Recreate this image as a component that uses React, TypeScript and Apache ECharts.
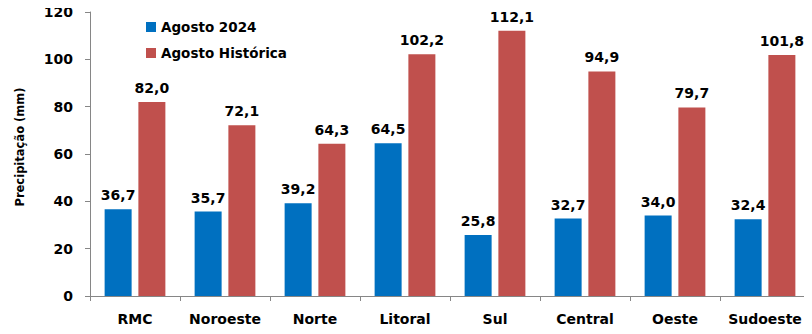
import React, { useEffect, useRef } from "react";
import * as echarts from "echarts";

const categories = ["RMC", "Noroeste", "Norte", "Litoral", "Sul", "Central", "Oeste", "Sudoeste"];
const agosto2024 = [36.7, 35.7, 39.2, 64.5, 25.8, 32.7, 34.0, 32.4];
const agostoHistorica = [82.0, 72.1, 64.3, 102.2, 112.1, 94.9, 79.7, 101.8];
const seriesNames = ["Agosto 2024", "Agosto Histórica"];
const yAxisName = "Precipitação (mm)";

const FONT = "'DejaVu Sans', Verdana, sans-serif";
const fmt = (v: number) => v.toFixed(1).replace(".", ",");

export default function App() {
  const ref = useRef<HTMLDivElement>(null);
  useEffect(() => {
    if (!ref.current) return;
    const chart = echarts.init(ref.current, null, { renderer: "svg" });
    const label = {
      show: true,
      position: "top" as const,
      distance: 7,
      color: "#000",
      fontFamily: FONT,
      fontWeight: "bold" as const,
      fontSize: 14,
      formatter: (p: any) => fmt(p.value),
    };
    chart.setOption({
      animation: false,
      backgroundColor: "#fff",
      grid: { left: 90, right: 2, top: 12, bottom: 38 },
      legend: {
        orient: "vertical",
        left: 141,
        top: 14,
        itemWidth: 10,
        itemHeight: 10,
        itemGap: 10,
        icon: "rect",
        textStyle: {
          fontFamily: FONT,
          fontWeight: "bold",
          fontSize: 13.5,
          color: "#000",
          lineHeight: 16,
        },
        data: seriesNames,
      },
      xAxis: {
        type: "category",
        data: categories,
        axisLine: { lineStyle: { color: "#868686", width: 1 } },
        axisTick: { show: true, length: 5, lineStyle: { color: "#868686" } },
        axisLabel: {
          interval: 0,
          color: "#000",
          fontFamily: FONT,
          fontWeight: "bold",
          fontSize: 14,
          margin: 16,
        },
      },
      yAxis: {
        type: "value",
        min: 0,
        max: 120,
        interval: 20,
        name: yAxisName,
        nameLocation: "middle",
        nameGap: 64,
        nameTextStyle: {
          color: "#000",
          fontFamily: FONT,
          fontWeight: "bold",
          fontSize: 11.5,
          padding: [0, 0, 0, 14],
        },
        axisLine: { show: true, lineStyle: { color: "#868686", width: 1 } },
        axisTick: { show: true, length: 5, lineStyle: { color: "#868686" } },
        splitLine: { show: false },
        axisLabel: {
          color: "#000",
          fontFamily: FONT,
          fontWeight: "bold",
          fontSize: 14,
          margin: 17,
        },
      },
      series: [
        {
          name: seriesNames[0],
          type: "bar",
          data: agosto2024,
          barWidth: "30%",
          barGap: "25%",
          itemStyle: { color: "#0070C0" },
          label,
        },
        {
          name: seriesNames[1],
          type: "bar",
          data: agostoHistorica,
          barWidth: "30%",
          barGap: "25%",
          itemStyle: { color: "#C0504D" },
          label,
        },
      ],
    });
    return () => chart.dispose();
  }, []);
  return <div ref={ref} style={{ width: 812, height: 334, margin: -8 }} />;
}
